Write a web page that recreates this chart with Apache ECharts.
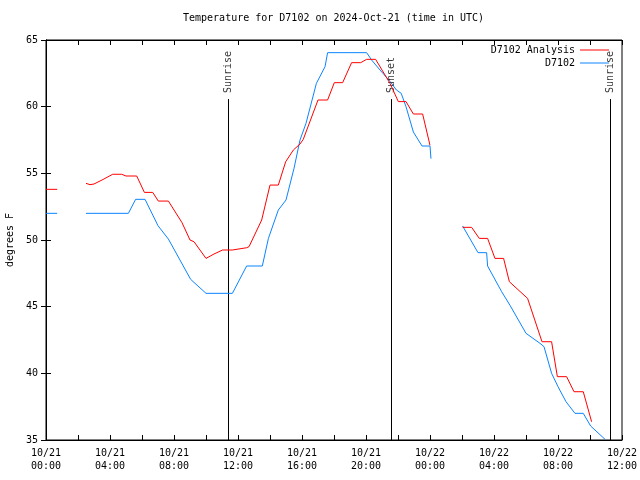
<!DOCTYPE html>
<html>
<head>
<meta charset="utf-8">
<script src="https://cdn.jsdelivr.net/npm/echarts@6/dist/echarts.min.js"></script>
<style>html,body{margin:0;padding:0;background:#fff}#c{width:640px;height:480px}</style>
</head>
<body>
<div id="c"></div>
<script>
// hours since 10/21 00:00 UTC; null = gap in data
const analysisTimes = [0, 0.7, null,
  2.5, 2.75, 3.0, 3.5, 4.17, 4.73, 5.0, 5.67, 6.15, 6.67, 7.02, 7.65, 8.5, 9.0, 9.25, 10.0, 10.5, 11.04, 11.65,
  12.54, 12.69, 13.48, 14.0, 14.52, 14.98, 15.46, 15.875, 16.08, 17.0, 17.6, 18.02, 18.54, 19.1, 19.67, 20.04, 20.6,
  21.5, 22.02, 22.5, 22.96, 23.54, 24.0, null,
  26.04, 26.6, 27.08, 27.6, 28.06, 28.6, 28.96, 30.1, 31.0, 31.6, 31.96, 32.54, 33.0, 33.58, 34.1];
const analysisTemps = [53.8, 53.8, null,
  54.25, 54.15, 54.2, 54.5, 54.93, 54.93, 54.8, 54.8, 53.57, 53.57, 52.92, 52.92, 51.3, 50.0, 49.87, 48.62, 48.95, 49.25, 49.25,
  49.42, 49.5, 51.5, 54.12, 54.12, 55.87, 56.75, 57.2, 57.55, 60.5, 60.5, 61.8, 61.8, 63.3, 63.3, 63.55, 63.55,
  61.75, 60.38, 60.38, 59.45, 59.45, 57.1, null,
  50.95, 50.95, 50.12, 50.12, 48.62, 48.62, 46.87, 45.62, 42.37, 42.37, 39.75, 39.75, 38.62, 38.62, 36.37];

const obsTimes = [0, 0.7, null,
  2.5, 5.15, 5.6, 6.19, 7.0, 7.65, 8.58, 9.04, 10.0, 11.65, 12.54, 13.52, 13.9, 14.52, 15.0, 15.5, 15.875, 16.25,
  16.9, 17.44, 17.6, 20.04, 20.35, 20.875, 21.5, 21.9, 22.2, 22.5, 22.96, 23.5, 24.0, 24.06, null,
  26.04, 27.0, 27.54, 27.6, 28.48, 29.0, 30.0, 30.875, 31.125, 31.6, 32.0, 32.5, 33.06, 33.58, 34.04, 34.94];
const obsTemps = [52.0, 52.0, null,
  52.0, 52.0, 53.05, 53.05, 51.07, 50.07, 48.05, 47.05, 46.0, 46.0, 48.05, 48.05, 50.12, 52.25, 53.0, 55.37, 57.5, 58.75,
  61.75, 63.0, 64.05, 64.05, 63.5, 62.75, 61.9, 61.25, 61.0, 60.0, 58.1, 57.05, 57.05, 56.1, null,
  51.05, 49.05, 49.05, 48.05, 46.12, 45.1, 43.0, 42.25, 42.0, 40.0, 39.0, 37.87, 37.0, 37.0, 36.05, 35.05];

const eventNames = ['Sunrise', 'Sunset', 'Sunrise'];
const eventTimes = [11.40625, 21.59375, 35.28125];
const eventLineTop = 60.57;

const xTickLabels = ['10/21\n00:00', '10/21\n04:00', '10/21\n08:00', '10/21\n12:00', '10/21\n16:00',
  '10/21\n20:00', '10/22\n00:00', '10/22\n04:00', '10/22\n08:00', '10/22\n12:00'];

const seriesNames = ['D7102 Analysis', 'D7102'];
const titleText = 'Temperature for D7102 on 2024-Oct-21 (time in UTC)';
const yAxisName = 'degrees F';

function pairs(ts, vs) {
  return ts.map((t, i) => t === null ? ['-', '-'] : [t, vs[i]]);
}

const FONT = 'DejaVu Sans Mono';
const RED = '#ff0000', BLUE = '#0a84ff';
const chart = echarts.init(document.getElementById('c'), null, {renderer: 'canvas'});

const eventSeries = eventTimes.map((t, i) => ({
  type: 'line',
  silent: true,
  symbol: 'none',
  lineStyle: {color: '#000', width: 1},
  data: [[t, 35], [t, eventLineTop]],
  z: 1
}));
const eventLabelSeries = {
  type: 'scatter',
  silent: true,
  symbolSize: 0.1,
  itemStyle: {color: 'rgba(0,0,0,0)'},
  data: eventTimes.map((t, i) => ({
    value: [t, eventLineTop],
    label: {
      show: true, formatter: eventNames[i], rotate: 90, position: 'right', distance: 0,
      offset: [6, 0], color: '#000', fontFamily: FONT, fontSize: 10
    }
  }))
};

function legendBox(name, top, color) {
  return {data: [{name: name, icon: 'rect', itemStyle: {color: color}}], right: 31, top: top, padding: 0,
    itemWidth: 29, itemHeight: 1, align: 'right', selectedMode: false,
    textStyle: {fontFamily: FONT, fontSize: 10, color: '#000', lineHeight: 12}};
}

chart.setOption({
  animation: false,
  backgroundColor: '#fff',
  title: {
    text: titleText, left: 183, top: 13, padding: 0,
    textStyle: {fontFamily: FONT, fontSize: 10, fontWeight: 'normal', color: '#000'}
  },
  legend: [legendBox(seriesNames[0], 44, RED), legendBox(seriesNames[1], 57, BLUE)],
  grid: {left: 46, right: 18, top: 40, bottom: 40, show: true, borderColor: '#000', borderWidth: 1,
         containLabel: false, outerBoundsMode: 'none'},
  xAxis: [
    {type: 'value', min: 0, max: 36, interval: 2, position: 'bottom',
     axisLine: {show: true, lineStyle: {color: '#000', width: 1}},
     axisTick: {show: true, inside: true, length: 5, lineStyle: {color: '#000'}},
     splitLine: {show: false},
     axisLabel: {color: '#000', fontFamily: FONT, fontSize: 10, lineHeight: 13, margin: 7,
       formatter: v => (v % 4 === 0 ? xTickLabels[v / 4] : '')}},
    {type: 'value', min: 0, max: 36, interval: 2, position: 'top',
     axisLine: {show: true, lineStyle: {color: '#000', width: 1}},
     axisTick: {show: true, inside: true, length: 5, lineStyle: {color: '#000'}},
     splitLine: {show: false}, axisLabel: {show: false}}
  ],
  yAxis: [
    {type: 'value', min: 35, max: 65, interval: 5, position: 'left',
     name: yAxisName, nameLocation: 'middle', nameRotate: 90, nameGap: 31,
     nameTextStyle: {fontFamily: FONT, fontSize: 10, color: '#000'},
     axisLine: {show: true, lineStyle: {color: '#000', width: 1}},
     axisTick: {show: true, inside: true, length: 5, lineStyle: {color: '#000'}},
     splitLine: {show: false},
     axisLabel: {color: '#000', fontFamily: FONT, fontSize: 10, margin: 8}},
    {type: 'value', min: 35, max: 65, interval: 5, position: 'right',
     axisLine: {show: true, lineStyle: {color: '#000', width: 1}},
     axisTick: {show: true, inside: true, length: 5, lineStyle: {color: '#000'}},
     splitLine: {show: false}, axisLabel: {show: false}}
  ],
  series: [
    {name: seriesNames[0], type: 'line', symbol: 'none', color: RED,
     lineStyle: {color: RED, width: 1}, connectNulls: false,
     data: pairs(analysisTimes, analysisTemps), z: 3},
    {name: seriesNames[1], type: 'line', symbol: 'none', color: BLUE,
     lineStyle: {color: BLUE, width: 1}, connectNulls: false,
     data: pairs(obsTimes, obsTemps), z: 2},
    ...eventSeries,
    eventLabelSeries
  ]
});
</script>
</body>
</html>
